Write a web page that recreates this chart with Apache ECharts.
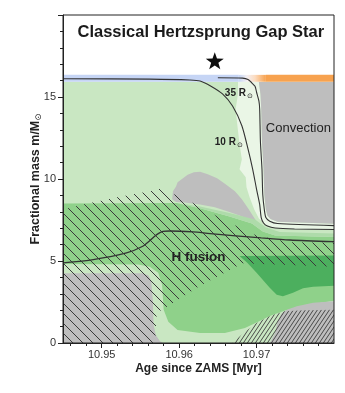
<!DOCTYPE html>
<html><head><meta charset="utf-8">
<script src="https://cdn.jsdelivr.net/npm/echarts@6/dist/echarts.min.js"></script>
<style>html,body{margin:0;padding:0;background:#fff}#c{width:345px;height:393px}</style>
</head><body><div id="c"></div>
<script>
const FONT = "'Liberation Sans', Arial, Helvetica, sans-serif";
// axis ranges and ticks
const ageRange = [10.945, 10.98];
const massRange = [0, 20];
const xMajorTicks = [10.95, 10.96, 10.97];
const xMinorTicks = [10.946, 10.948, 10.952, 10.954, 10.956, 10.958, 10.962, 10.964, 10.966, 10.968, 10.972, 10.974, 10.976, 10.978];
const yTickLabels = [0, 5, 10, 15];

// stellar surface band
const surfaceMass = 15.93, bandTopMass = 16.35;
const blueBandEnd = 10.9677, orangeBandStart = 10.9712;

// regions: [age (Myr), mass (Msun)]
const lightBase = [[10.945, 0], [10.98, 0], [10.98, 15.93], [10.945, 15.93]];
const veryLightZone = [[10.9676, 15.92], [10.9703, 15.92], [10.9705, 15.19], [10.9706, 14.27], [10.9707, 12.25], [10.9709, 10.59], [10.9710, 9.06], [10.9712, 8.14], [10.9714, 7.78], [10.9718, 7.56], [10.9727, 7.39], [10.98, 7.27], [10.98, 6.89], [10.9749, 6.93], [10.9724, 6.99], [10.9712, 7.19], [10.9703, 7.59], [10.9697, 8.14], [10.9691, 8.88], [10.9687, 9.49], [10.9686, 10.10], [10.9678, 10.59], [10.9681, 11.21], [10.9678, 12.12], [10.9675, 13.35], [10.9673, 14.27], [10.9676, 15.19]];
const convectionEnvelope = [[10.9703, 15.92], [10.98, 15.92], [10.98, 7.27], [10.9727, 7.39], [10.9718, 7.56], [10.9714, 7.78], [10.9712, 8.14], [10.9710, 9.06], [10.9709, 10.59], [10.9707, 12.25], [10.9706, 14.27], [10.9705, 15.19]];
const convectionBlob = [[10.9591, 8.76], [10.9592, 9.25], [10.9596, 9.55], [10.9598, 9.80], [10.9605, 10.04], [10.9611, 10.26], [10.9619, 10.41], [10.9627, 10.44], [10.9637, 10.29], [10.9649, 10.04], [10.9660, 9.68], [10.9672, 9.25], [10.9681, 8.76], [10.9689, 8.21], [10.9695, 7.78], [10.9700, 7.41], [10.9691, 7.53], [10.9678, 7.78], [10.9663, 8.02], [10.9646, 8.27], [10.9627, 8.45], [10.9607, 8.57], [10.9596, 8.60]];
const mediumZone = [[10.945, 8.51], [10.9597, 8.54], [10.9627, 8.21], [10.9665, 7.72], [10.9694, 7.29], [10.9708, 6.80], [10.9724, 6.55], [10.98, 6.46], [10.98, 0], [10.945, 0]];
const transitionZone = [[10.9597, 8.54], [10.9627, 8.33], [10.9665, 7.93], [10.9698, 7.53], [10.9712, 7.04], [10.9730, 6.77], [10.98, 6.67], [10.98, 6.46], [10.9724, 6.55], [10.9708, 6.80], [10.9694, 7.29], [10.9665, 7.72], [10.9627, 8.21]];
const lightLower = [[10.945, 4.81], [10.9547, 4.78], [10.9562, 4.65], [10.9573, 4.29], [10.9578, 3.55], [10.9580, 2.02], [10.9586, 1.29], [10.9598, 0.80], [10.9627, 0.61], [10.9659, 0.61], [10.9685, 0.92], [10.9702, 1.29], [10.9717, 1.65], [10.9736, 1.96], [10.9762, 2.30], [10.98, 2.57], [10.98, 0], [10.945, 0]];
const coreConvection = [[10.945, 4.26], [10.9552, 4.26], [10.9560, 4.13], [10.9564, 3.80], [10.9566, 2.63], [10.9567, 1.10], [10.9570, 0.49], [10.9575, 0.12], [10.9579, 0], [10.945, 0]];
const fusionPeak = [[10.9678, 5.30], [10.98, 5.33], [10.98, 3.49], [10.9773, 3.43], [10.9760, 3.34], [10.9747, 3.06], [10.9734, 2.85], [10.9726, 2.94], [10.9717, 3.37], [10.9700, 4.29], [10.9688, 4.90]];
const lowerConvection = [[10.98, 2.54], [10.9773, 2.45], [10.9752, 2.24], [10.9739, 2.02], [10.9732, 1.78], [10.9727, 1.29], [10.9724, 0.61], [10.9717, 0], [10.98, 0]];
const hatchBack = [[10.945, 8.14], [10.9476, 8.45], [10.9520, 8.88], [10.9562, 9.25], [10.9575, 9.40], [10.9601, 8.94], [10.9627, 8.33], [10.9656, 7.53], [10.9700, 6.55], [10.9743, 6.15], [10.98, 6.12], [10.98, 4.65], [10.9682, 4.87], [10.9627, 3.49], [10.9595, 2.51], [10.9571, 1.84], [10.9569, 0], [10.945, 0]];
const hatchFwd = [[10.9668, 0], [10.9685, 0.67], [10.9700, 1.22], [10.9717, 1.65], [10.9736, 1.93], [10.9762, 1.99], [10.98, 2.02], [10.98, 0]];

// lines
const radius10 = [[10.945, 16.11], [10.9562, 16.09], [10.9614, 16.04], [10.9627, 15.98], [10.9640, 15.69], [10.9656, 15.19], [10.9669, 14.45], [10.9681, 13.25], [10.9689, 11.82], [10.9695, 10.59], [10.9700, 9.37], [10.9704, 8.45], [10.9706, 7.65], [10.9709, 7.32], [10.9714, 7.13], [10.9724, 7.01], [10.9749, 6.95], [10.98, 6.92]];
const radius35 = [[10.9650, 16.17], [10.9682, 16.15], [10.9689, 16.07], [10.9693, 15.90], [10.9698, 15.65], [10.9700, 15.29], [10.9703, 14.76], [10.9704, 14.27], [10.9705, 12.25], [10.9707, 10.59], [10.9708, 9.06], [10.9710, 8.14], [10.9712, 7.65], [10.9717, 7.43], [10.9727, 7.29], [10.98, 7.16]];
const fusionLine = [[10.945, 4.88], [10.9489, 5.08], [10.9532, 5.49], [10.9553, 5.90], [10.9562, 6.24], [10.9571, 6.61], [10.9579, 6.80], [10.9588, 6.83], [10.9618, 6.77], [10.9640, 6.67], [10.9706, 6.41], [10.9743, 6.28], [10.98, 6.18]];

// annotations
const starPoint = [[10.9646, 17.21]];
const titleText = 'Classical Hertzsprung Gap Star';
const titleAnchor = [10.9628, 18.92];
const regionLabels = ['Convection', 'H fusion'];
const regionAnchors = [[10.9754, 13.1], [10.9625, 5.22]];
const radiusLabels = ['35 R', '10 R'];
const radiusAnchors = [[10.9659, 15.22], [10.9646, 12.27]];

const C = {light:'#c9e7c2', vlight:'#eaf6e6', medium:'#8fd18a', trans:'#aedbaa', dark:'#4caf5e', gray:'#bebebe', line:'#333'};

function hatch(w, h, dir, color, lw){
  const c = document.createElement('canvas'); c.width = w; c.height = h;
  const g = c.getContext('2d'); g.strokeStyle = color; g.lineWidth = lw; g.beginPath();
  for (let k = -1; k <= 1; k++) {
    if (dir === 'back') { g.moveTo(k*w, 0); g.lineTo(k*w + w, h); }
    else { g.moveTo(k*w, h); g.lineTo(k*w + w, 0); }
  }
  g.stroke();
  return {image: c, repeat: 'repeat'};
}

function poly(pts, style, z){
  return {type:'custom', coordinateSystem:'cartesian2d', data:[pts[0]], silent:true, animation:false, clip:true, z:z,
    renderItem:(p, api)=>({type:'polygon', shape:{points: pts.map(q=>api.coord(q))}, style: style})};
}
function line(pts, width, z){
  return {type:'line', data:pts, showSymbol:false, smooth:0.25, silent:true, animation:false, z:z,
    lineStyle:{color:C.line, width:width}};
}
function textSeries(anchors, makeStyle, z){
  return {type:'custom', coordinateSystem:'cartesian2d', data:anchors, silent:true, animation:false, clip:false, z:z,
    renderItem:(p, api)=>{ const pt = api.coord([api.value(0), api.value(1)]);
      return {type:'text', x:pt[0], y:pt[1], style: makeStyle(p.dataIndex)}; }};
}

const series = [
  poly(lightBase, {fill:C.light}, 1),
  poly(veryLightZone, {fill:C.vlight}, 1.1),
  poly(convectionEnvelope, {fill:C.gray}, 1.2),
  poly(convectionBlob, {fill:C.gray}, 1.3),
  poly(mediumZone, {fill:C.medium}, 1.4),
  poly(transitionZone, {fill:C.trans}, 1.45),
  poly(lightLower, {fill:C.light}, 1.5),
  poly(coreConvection, {fill:C.gray}, 1.6),
  poly(fusionPeak, {fill:C.dark}, 1.7),
  poly(lowerConvection, {fill:C.gray}, 1.8),
  poly(hatchBack, {fill:hatch(10, 10, 'back', '#3a3a3a', 1)}, 2),
  poly(hatchFwd, {fill:hatch(4, 6, 'fwd', '#3a3a3a', 0.9)}, 2.1),
  {type:'custom', coordinateSystem:'cartesian2d', data:[[ageRange[0], bandTopMass]], silent:true, animation:false, z:2.5,
    renderItem:(p, api)=>{
      const a = api.coord([ageRange[0], bandTopMass]), b = api.coord([blueBandEnd, surfaceMass]);
      const c = api.coord([orangeBandStart, bandTopMass]), d = api.coord([ageRange[1], surfaceMass]);
      return {type:'group', children:[
        {type:'rect', shape:{x:a[0], y:a[1], width:b[0]-a[0], height:b[1]-a[1]}, style:{fill:'#c6d5f5'}},
        {type:'rect', shape:{x:b[0], y:a[1], width:c[0]-b[0], height:b[1]-a[1]}, style:{fill:new echarts.graphic.LinearGradient(0,0,1,0,[{offset:0,color:'#c6d5f5'},{offset:0.3,color:'#f3eff2'},{offset:0.6,color:'#fcdcc0'},{offset:1,color:'#f7a24f'}])}},
        {type:'rect', shape:{x:c[0], y:a[1], width:d[0]-c[0], height:d[1]-a[1]}, style:{fill:'#f7a24f'}}
      ]};
    }},
  line(radius10, 1.1, 3),
  line(radius35, 1.1, 3),
  line(fusionLine, 1.3, 3),
  {type:'scatter', data:starPoint, symbol:'path://M0,-10L2.35,-3.24L9.51,-3.09L3.8,1.24L5.88,8.09L0,4L-5.88,8.09L-3.8,1.24L-9.51,-3.09L-2.35,-3.24Z',
    symbolSize:[18,17], itemStyle:{color:'#0d0d0d', opacity:1}, silent:true, animation:false, z:4, clip:false},
  textSeries([titleAnchor], ()=>({text:titleText, fill:'#1a1a1a', font:'bold 16.5px '+FONT, align:'center', verticalAlign:'middle'}), 5),
  textSeries(regionAnchors, i=>({text:regionLabels[i], fill:'#222', font:(i===1?'bold 13.5px ':'13px ')+FONT, align:'center', verticalAlign:'middle'}), 5),
  textSeries(radiusAnchors, i=>({text:'{a|'+radiusLabels[i]+'}{b|\u2299}', align:'left', verticalAlign:'middle',
    rich:{a:{fontSize:10, fontWeight:'bold', fontFamily:FONT, fill:'#222', lineHeight:13, verticalAlign:'middle'},
          b:{fontSize:7, fontFamily:'DejaVu Sans', fill:'#222', lineHeight:8, verticalAlign:'bottom', padding:[0,0,0,1]}}}), 5)
];

const axisCommon = {type:'value', min:ageRange[0], max:ageRange[1], splitLine:{show:false}, z:10};
const option = {
  animation:false,
  grid:{left:63, right:11, top:15, bottom:50, show:true, borderColor:'#222', borderWidth:1, backgroundColor:'rgba(0,0,0,0)', z:10},
  xAxis:[
    Object.assign({}, axisCommon, {position:'bottom',
      axisLine:{show:true, onZero:false, lineStyle:{color:'#222', width:1}},
      axisTick:{show:true, customValues:xMajorTicks, length:5, lineStyle:{color:'#222'}},
      axisLabel:{customValues:xMajorTicks, formatter:v=>(+v).toFixed(2), fontSize:11, color:'#333', margin:6, fontFamily:FONT},
      name:'Age since ZAMS [Myr]', nameLocation:'middle', nameGap:20, nameMoveOverlap:false,
      nameTextStyle:{fontWeight:'bold', fontSize:12, color:'#222', fontFamily:FONT}}),
    Object.assign({}, axisCommon, {position:'bottom',
      axisLine:{show:false, onZero:false},
      axisTick:{show:true, customValues:xMinorTicks, length:3, lineStyle:{color:'#222'}},
      axisLabel:{show:false}})
  ],
  yAxis:{type:'value', min:massRange[0], max:massRange[1], interval:5, splitLine:{show:false}, z:10,
    axisLine:{show:true, onZero:false, lineStyle:{color:'#222', width:1}},
    axisTick:{show:true, length:5, lineStyle:{color:'#222'}},
    minorTick:{show:true, splitNumber:5, length:3, lineStyle:{color:'#222'}},
    axisLabel:{customValues:yTickLabels, fontSize:11, color:'#333', margin:7, fontFamily:FONT},
    name:'{a|Fractional mass m/M}{b|\u2299}', nameLocation:'middle', nameGap:20, nameMoveOverlap:false,
    nameTextStyle:{rich:{a:{fontWeight:'bold', fontSize:12.5, color:'#222', fontFamily:FONT, lineHeight:15, verticalAlign:'middle'},
                         b:{fontSize:8.5, color:'#222', fontFamily:'DejaVu Sans', lineHeight:9, verticalAlign:'bottom'}}}},
  series:series
};
const chart = echarts.init(document.getElementById('c'), null, {renderer:'canvas'});
chart.setOption(option);
</script></body></html>
